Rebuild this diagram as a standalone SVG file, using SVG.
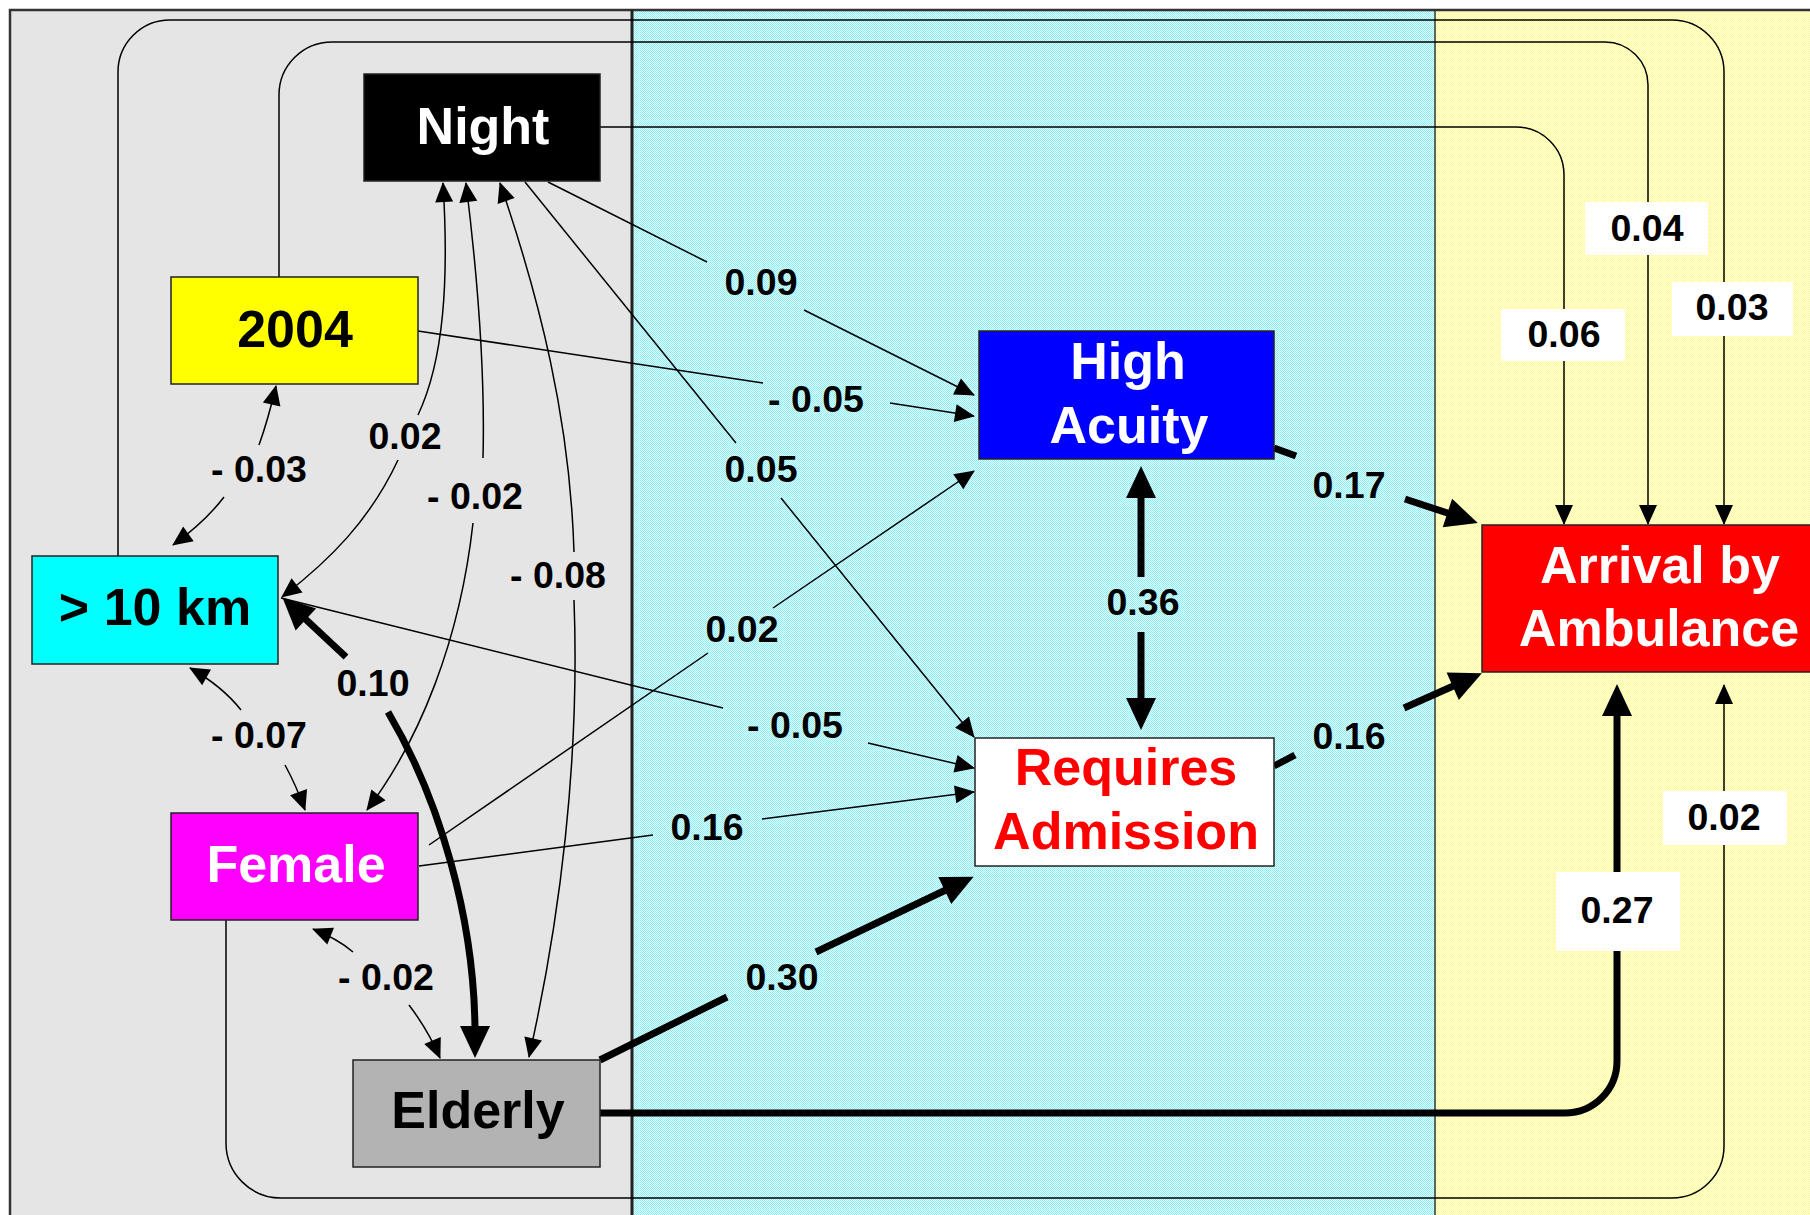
<svg xmlns="http://www.w3.org/2000/svg" width="1810" height="1215" viewBox="0 0 1810 1215">
  <defs>
    <!-- fine dotted fills for the middle and right bands -->
    <pattern id="dotCyan" patternUnits="userSpaceOnUse" width="2" height="2">
      <rect width="2" height="2" fill="#e8ffff"/>
      <rect width="1" height="1" fill="#88eef5"/>
      <rect x="1" y="1" width="1" height="1" fill="#88eef5"/>
    </pattern>
    <pattern id="dotYellow" patternUnits="userSpaceOnUse" width="2" height="2">
      <rect width="2" height="2" fill="#ffffee"/>
      <rect width="1" height="1" fill="#ffff8a"/>
      <rect x="1" y="1" width="1" height="1" fill="#ffff8a"/>
    </pattern>
    <!-- arrowheads -->
    <marker id="a" markerUnits="userSpaceOnUse" viewBox="0 0 20 18" markerWidth="20" markerHeight="18" refX="19" refY="9" orient="auto" overflow="visible">
      <path d="M0,0 L20,9 L0,18 z" fill="#000"/>
    </marker>
    <marker id="A" markerUnits="userSpaceOnUse" viewBox="0 0 32 30" markerWidth="32" markerHeight="30" refX="8" refY="15" orient="auto" overflow="visible">
      <path d="M0,0 L32,15 L0,30 z" fill="#000"/>
    </marker>
    <style>
      .n { stroke:#222; stroke-width:1.5; }
      .t { font-family:"Liberation Sans", Arial, sans-serif; font-weight:bold; font-size:52px; text-anchor:middle; }
      .l { font-family:"Liberation Sans", Arial, sans-serif; font-weight:bold; font-size:37.5px; text-anchor:middle; fill:#000; }
      .c { fill:none; stroke:#000; stroke-width:1.5; }
      .k { fill:none; stroke:#000; stroke-width:7; }
      .lb { fill:#fff; }
    </style>
  </defs>

  <!-- background bands -->
  <g id="bands">
    <rect x="0" y="0" width="1810" height="1215" fill="#fff"/>
    <rect x="10" y="10" width="622" height="1215" fill="#e5e5e5"/>
    <rect x="632" y="10" width="803" height="1215" fill="url(#dotCyan)"/>
    <rect x="1435" y="10" width="380" height="1215" fill="url(#dotYellow)"/>
    <path d="M10,1215 V10 H1810" fill="none" stroke="#333" stroke-width="2.5"/>
    <line x1="632" y1="10" x2="632" y2="1215" stroke="#222" stroke-width="3"/>
    <line x1="1435" y1="10" x2="1435" y2="1215" stroke="#333" stroke-width="1.5"/>
  </g>

  <g id="connectors">
    <!-- routed paths into Arrival by Ambulance -->
    <path class="c" d="M118,556 V72 A52,52 0 0 1 170,20 H1672 A52,52 0 0 1 1724,72 V524" marker-end="url(#a)"/>
    <path class="c" d="M279,277 V95 A53,53 0 0 1 332,42 H1605 A43,43 0 0 1 1648,85 V524" marker-end="url(#a)"/>
    <path class="c" d="M600,127 H1516 A48,48 0 0 1 1564,175 V524" marker-end="url(#a)"/>
    <path class="c" d="M226,920 V1143 A55,55 0 0 0 281,1198 H1672 A52,52 0 0 0 1724,1146 V685" marker-end="url(#a)"/>
    <path class="k" d="M600,1113 H1565 A52,52 0 0 0 1617,1061 V708" marker-end="url(#A)"/>

    <!-- correlations among the background factors -->
    <path class="c" d="M259,445 Q268,420 276,386" marker-end="url(#a)"/>
    <path class="c" d="M224,497 Q205,522 173,545" marker-end="url(#a)"/>
    <path class="c" d="M418,415 C444,360 449,280 443,183" marker-end="url(#a)"/>
    <path class="c" d="M398,460 C370,520 330,560 282,597" marker-end="url(#a)"/>
    <path class="c" d="M483,458 C485,380 478,280 466,183" marker-end="url(#a)"/>
    <path class="c" d="M473,523 C460,640 420,740 367,810" marker-end="url(#a)"/>
    <path class="c" d="M574,552 C570,420 540,300 500,183" marker-end="url(#a)"/>
    <path class="c" d="M574,600 C580,760 560,920 529,1057" marker-end="url(#a)"/>
    <path class="k" d="M346,657 L300,614" marker-end="url(#A)"/>
    <path class="k" d="M388,712 C440,800 475,920 475,1034" marker-end="url(#A)"/>
    <path class="c" d="M241,710 Q222,686 190,668" marker-end="url(#a)"/>
    <path class="c" d="M285,765 Q296,785 305,810" marker-end="url(#a)"/>
    <path class="c" d="M353,952 Q338,939 313,929" marker-end="url(#a)"/>
    <path class="c" d="M409,1005 Q428,1030 440,1058" marker-end="url(#a)"/>

    <!-- paths into High Acuity -->
    <path class="c" d="M548,182 L707,262"/>
    <path class="c" d="M804,310 L974,395" marker-end="url(#a)"/>
    <path class="c" d="M418,331 L763,383"/>
    <path class="c" d="M890,403 L974,416" marker-end="url(#a)"/>
    <path class="c" d="M429,845 L708,653"/>
    <path class="c" d="M773,608 L974,471" marker-end="url(#a)"/>

    <!-- paths into Requires Admission -->
    <path class="c" d="M525,182 L736,443"/>
    <path class="c" d="M781,498 L974,737" marker-end="url(#a)"/>
    <path class="c" d="M281,598 L723,708"/>
    <path class="c" d="M868,743 L974,768" marker-end="url(#a)"/>
    <path class="c" d="M419,866 L653,835"/>
    <path class="c" d="M762,819 L974,792" marker-end="url(#a)"/>
    <path class="k" d="M600,1060 L727,997"/>
    <path class="k" d="M816,952 L952,887" marker-end="url(#A)"/>

    <!-- High Acuity / Requires Admission correlation -->
    <path class="k" d="M1141,577 L1141,490" marker-end="url(#A)"/>
    <path class="k" d="M1141,632 L1141,706" marker-end="url(#A)"/>

    <!-- outcome paths -->
    <path class="k" d="M1274,448 L1296,456"/>
    <path class="k" d="M1405,499 L1455,515.5" marker-end="url(#A)"/>
    <path class="k" d="M1274,766 L1295,755"/>
    <path class="k" d="M1404,708 L1460,683" marker-end="url(#A)"/>

    <!-- coefficient labels -->
    <g id="labels">
      <rect class="lb" x="1501" y="309" width="124" height="52"/>
      <rect class="lb" x="1585" y="202" width="123" height="53"/>
      <rect class="lb" x="1672" y="282" width="121" height="54"/>
      <rect class="lb" x="1663" y="791" width="124" height="54"/>
      <rect class="lb" x="1556" y="872" width="124" height="79"/>
      <text class="l" x="1564" y="347">0.06</text>
      <text class="l" x="1647" y="241">0.04</text>
      <text class="l" x="1732" y="320">0.03</text>
      <text class="l" x="1724" y="830">0.02</text>
      <text class="l" x="1617" y="923">0.27</text>

      <text class="l" x="761" y="295">0.09</text>
      <text class="l" x="816" y="412">- 0.05</text>
      <text class="l" x="761" y="482">0.05</text>
      <text class="l" x="742" y="642">0.02</text>
      <text class="l" x="795" y="738">- 0.05</text>
      <text class="l" x="707" y="840">0.16</text>
      <text class="l" x="782" y="990">0.30</text>
      <text class="l" x="1143" y="615">0.36</text>
      <text class="l" x="1349" y="498">0.17</text>
      <text class="l" x="1349" y="749">0.16</text>

      <text class="l" x="259" y="482">- 0.03</text>
      <text class="l" x="405" y="449">0.02</text>
      <text class="l" x="475" y="509">- 0.02</text>
      <text class="l" x="558" y="588">- 0.08</text>
      <text class="l" x="373" y="696">0.10</text>
      <text class="l" x="259" y="748">- 0.07</text>
      <text class="l" x="386" y="990">- 0.02</text>
    </g>
  </g>

  <!-- nodes -->
  <g id="night">
    <rect class="n" x="364" y="74" width="236" height="107" fill="#000"/>
    <text class="t" x="483" y="144" fill="#fff">Night</text>
  </g>
  <g id="year2004">
    <rect class="n" x="171" y="277" width="247" height="107" fill="#ffff00"/>
    <text class="t" x="295" y="347" fill="#000">2004</text>
  </g>
  <g id="distance">
    <rect class="n" x="32" y="556" width="246" height="108" fill="#00ffff"/>
    <text class="t" x="155" y="625" fill="#000">&gt; 10 km</text>
  </g>
  <g id="female">
    <rect class="n" x="171" y="813" width="247" height="107" fill="#ff00ff"/>
    <text class="t" x="296" y="882" fill="#fff">Female</text>
  </g>
  <g id="elderly">
    <rect class="n" x="353" y="1060" width="247" height="107" fill="#b3b3b3"/>
    <text class="t" x="478" y="1128" fill="#000">Elderly</text>
  </g>
  <g id="high-acuity">
    <rect class="n" x="979" y="331" width="295" height="128" fill="#0000ff"/>
    <text class="t" x="1128" y="379" fill="#fff">High</text>
    <text class="t" x="1129" y="443" fill="#fff">Acuity</text>
  </g>
  <g id="requires-admission">
    <rect class="n" x="975" y="738" width="299" height="128" fill="#fff"/>
    <text class="t" x="1126" y="785" fill="#ff0000">Requires</text>
    <text class="t" x="1126" y="849" fill="#ff0000">Admission</text>
  </g>
  <g id="arrival">
    <rect class="n" x="1482" y="525" width="360" height="147" fill="#ff0000"/>
    <text class="t" x="1660" y="583" fill="#fff">Arrival by</text>
    <text class="t" x="1659" y="646" fill="#fff">Ambulance</text>
  </g>
</svg>
